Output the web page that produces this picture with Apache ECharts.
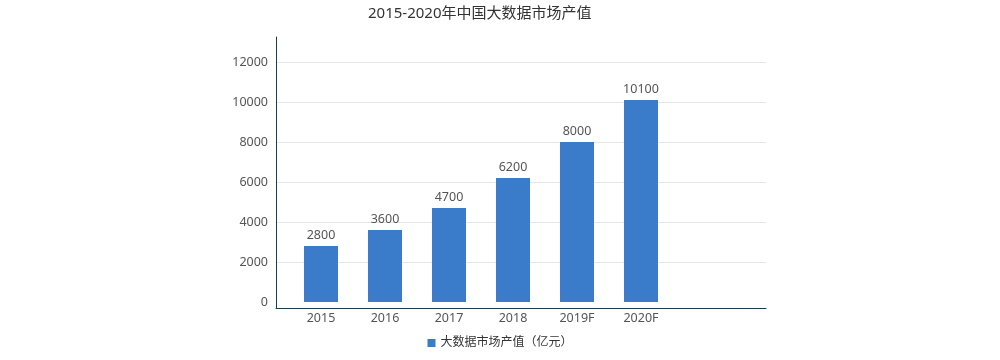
<!DOCTYPE html>
<html>
<head>
<meta charset="utf-8">
<script src="https://cdn.jsdelivr.net/npm/echarts@6/dist/echarts.min.js"></script>
<style>
html,body{margin:0;padding:0;background:#fff;}
#chart{width:1000px;height:360px;}
</style>
</head>
<body>
<div id="chart"></div>
<script>
const titleText = '2015-2020年中国大数据市场产值';
const seriesName = '大数据市场产值（亿元）';
const categories = ['2015', '2016', '2017', '2018', '2019F', '2020F'];
const values = [2800, 3600, 4700, 6200, 8000, 10100];
const yMin = 0, yMax = 12000, yStep = 2000;

const FONT = "'Noto Sans','Noto Sans CJK SC',sans-serif";
const AXIS_COLOR = '#1f3b4d';
const TEXT_COLOR = '#555';

const chart = echarts.init(document.getElementById('chart'), null, {renderer: 'canvas'});
chart.setOption({
  animation: false,
  textStyle: {fontFamily: FONT},
  title: {
    text: titleText,
    left: 363,
    top: 1,
    textStyle: {fontSize: 15, fontWeight: 'normal', color: '#333', fontFamily: FONT}
  },
  legend: {
    data: [seriesName],
    left: 'center',
    top: 332,
    icon: 'rect',
    itemWidth: 8,
    itemHeight: 8,
    itemGap: 10,
    textStyle: {fontSize: 12, color: '#333', fontFamily: FONT}
  },
  grid: [
    {left: 276, width: 490, top: 37, height: 271},   // frame (axis lines)
    {left: 276, width: 490, top: 62, height: 200},   // gridlines
    {left: 289, width: 384, top: 62, height: 240}    // bars
  ],
  xAxis: [
    {gridIndex: 0, type: 'category', data: [''],
     axisLine: {show: true, onZero: false, lineStyle: {color: AXIS_COLOR, width: 1}},
     axisTick: {show: false}, axisLabel: {show: false}, splitLine: {show: false}},
    {gridIndex: 1, type: 'category', data: [''], show: false},
    {gridIndex: 2, type: 'category', data: categories,
     axisLine: {show: false}, axisTick: {show: false},
     axisLabel: {margin: 10, fontSize: 12.5, color: TEXT_COLOR, fontFamily: FONT},
     splitLine: {show: false}}
  ],
  yAxis: [
    {gridIndex: 0, type: 'value', min: 0, max: 1,
     axisLine: {show: true, onZero: false, lineStyle: {color: AXIS_COLOR, width: 1}},
     axisTick: {show: false}, axisLabel: {show: false}, splitLine: {show: false}},
    {gridIndex: 1, type: 'value', min: yStep, max: yMax, interval: yStep,
     axisLine: {show: false}, axisTick: {show: false}, axisLabel: {show: false},
     splitLine: {show: true, lineStyle: {color: '#e6e6e6', width: 1}}},
    {gridIndex: 2, type: 'value', min: yMin, max: yMax, interval: yStep,
     axisLine: {show: false}, axisTick: {show: false},
     axisLabel: {margin: 21, fontSize: 12.5, color: TEXT_COLOR, fontFamily: FONT,
                 formatter: function (v) { return String(v); }},
     splitLine: {show: false}}
  ],
  series: [{
    name: seriesName,
    type: 'bar',
    xAxisIndex: 2,
    yAxisIndex: 2,
    data: values,
    barWidth: 34,
    itemStyle: {color: '#3a7bca'},
    label: {show: true, position: 'top', distance: 4, fontSize: 12.5, color: TEXT_COLOR, fontFamily: FONT}
  }]
});
</script>
</body>
</html>
